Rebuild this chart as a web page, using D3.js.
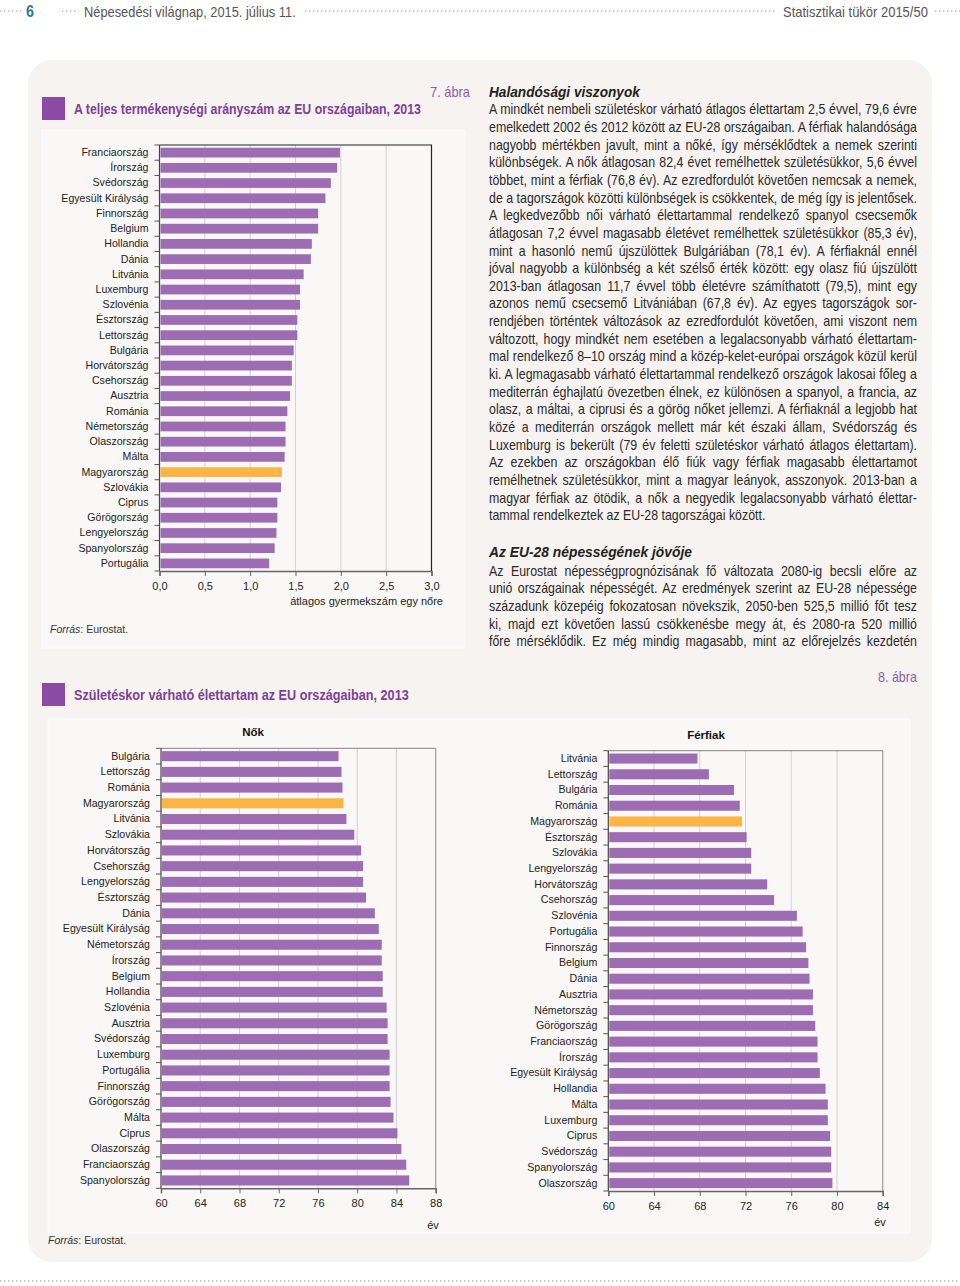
<!DOCTYPE html>
<html><head><meta charset="utf-8">
<script src="https://cdn.jsdelivr.net/npm/d3@7"></script>
<style>body{margin:0;background:#fff}svg{display:block}</style>
</head><body>
<svg id="c" width="960" height="1286"></svg>
<script>
// ---------- DATA ----------
const fertilityCountries = ["Franciaország","Írország","Svédország","Egyesült Királyság","Finnország","Belgium","Hollandia","Dánia","Litvánia","Luxemburg","Szlovénia","Észtország","Lettország","Bulgária","Horvátország","Csehország","Ausztria","Románia","Németország","Olaszország","Málta","Magyarország","Szlovákia","Ciprus","Görögország","Lengyelország","Spanyolország","Portugália"];
const fertilityValues = [1.99,1.96,1.89,1.83,1.75,1.75,1.68,1.67,1.59,1.55,1.55,1.52,1.52,1.48,1.46,1.46,1.44,1.41,1.39,1.39,1.38,1.35,1.34,1.30,1.30,1.29,1.27,1.21];
const fertilityTicks = [0,0.5,1,1.5,2,2.5,3];

const femaleCountries = ["Bulgária","Lettország","Románia","Magyarország","Litvánia","Szlovákia","Horvátország","Csehország","Lengyelország","Észtország","Dánia","Egyesült Királyság","Németország","Írország","Belgium","Hollandia","Szlovénia","Ausztria","Svédország","Luxemburg","Portugália","Finnország","Görögország","Málta","Ciprus","Olaszország","Franciaország","Spanyolország"];
const femaleValues = [78.1,78.4,78.5,78.6,78.9,79.7,80.4,80.6,80.6,80.9,81.8,82.2,82.5,82.5,82.6,82.6,83.0,83.1,83.1,83.3,83.3,83.3,83.4,83.7,84.1,84.5,85.0,85.3];
const femaleTicks = [60,64,68,72,76,80,84,88];

const maleCountries = ["Litvánia","Lettország","Bulgária","Románia","Magyarország","Észtország","Szlovákia","Lengyelország","Horvátország","Csehország","Szlovénia","Portugália","Finnország","Belgium","Dánia","Ausztria","Németország","Görögország","Franciaország","Írország","Egyesült Királyság","Hollandia","Málta","Luxemburg","Ciprus","Svédország","Spanyolország","Olaszország"];
const maleValues = [67.8,68.8,71.0,71.5,71.7,72.1,72.5,72.5,73.9,74.5,76.5,77.0,77.3,77.5,77.6,77.9,77.9,78.1,78.3,78.3,78.5,79.0,79.2,79.2,79.4,79.5,79.5,79.6];
const maleTicks = [60,64,68,72,76,80,84];

const highlight = "Magyarország";

const text1 = [
"A mindkét nembeli születéskor várható átlagos élettartam 2,5 évvel, 79,6 évre",
"emelkedett 2002 és 2012 között az EU-28 országaiban. A férfiak halandósága",
"nagyobb mértékben javult, mint a nőké, így mérséklődtek a nemek szerinti",
"különbségek. A nők átlagosan 82,4 évet remélhettek születésükkor, 5,6 évvel",
"többet, mint a férfiak (76,8 év). Az ezredfordulót követően nemcsak a nemek,",
"de a tagországok közötti különbségek is csökkentek, de még így is jelentősek.",
"A legkedvezőbb női várható élettartammal rendelkező spanyol csecsemők",
"átlagosan 7,2 évvel magasabb életévet remélhettek születésükkor (85,3 év),",
"mint a hasonló nemű újszülöttek Bulgáriában (78,1 év). A férfiaknál ennél",
"jóval nagyobb a különbség a két szélső érték között: egy olasz fiú újszülött",
"2013-ban átlagosan 11,7 évvel több életévre számíthatott (79,5), mint egy",
"azonos nemű csecsemő Litvániában (67,8 év). Az egyes tagországok sor-",
"rendjében történtek változások az ezredfordulót követően, ami viszont nem",
"változott, hogy mindkét nem esetében a legalacsonyabb várható élettartam-",
"mal rendelkező 8–10 ország mind a közép-kelet-európai országok közül kerül",
"ki. A legmagasabb várható élettartammal rendelkező országok lakosai főleg a",
"mediterrán éghajlatú övezetben élnek, ez különösen a spanyol, a francia, az",
"olasz, a máltai, a ciprusi és a görög nőket jellemzi. A férfiaknál a legjobb hat",
"közé a mediterrán országok mellett már két északi állam, Svédország és",
"Luxemburg is bekerült (79 év feletti születéskor várható átlagos élettartam).",
"Az ezekben az országokban élő fiúk vagy férfiak magasabb élettartamot",
"remélhetnek születésükkor, mint a magyar leányok, asszonyok. 2013-ban a",
"magyar férfiak az ötödik, a nők a negyedik legalacsonyabb várható élettar-",
"tammal rendelkeztek az EU-28 tagországai között."
];
const text2 = [
"Az Eurostat népességprognózisának fő változata 2080-ig becsli előre az",
"unió országainak népességét. Az eredmények szerint az EU-28 népessége",
"századunk közepéig fokozatosan növekszik, 2050-ben 525,5 millió főt tesz",
"ki, majd ezt követően lassú csökkenésbe megy át, és 2080-ra 520 millió",
"főre mérséklődik. Ez még mindig magasabb, mint az előrejelzés kezdetén"
];

// ---------- STYLE ----------
const PURPLE = "#9d6db4", ORANGE = "#fbb545", TITLE = "#7e3f99";
const SANS = "'Liberation Sans',Arial,sans-serif";

const svg = d3.select("#c");

// helper: text horizontally condensed to a given width (via scale transform)
function fitText(x, y, str, w, size, opts={}){
  const g = svg.append("g");
  const t = g.append("text").attr("x",0).attr("y",0).text(str)
    .attr("font-family",SANS).attr("font-size",size).attr("fill",opts.fill||"#222");
  if(opts.bold) t.attr("font-weight","bold");
  if(opts.italic) t.attr("font-style","italic");
  const nat = t.node().getComputedTextLength();
  const k = w/nat;
  g.attr("transform",`translate(${x},${y}) scale(${k},1)`);
  return t;
}

// page panel
svg.append("rect").attr("x",28).attr("y",60).attr("width",904).attr("height",1202)
  .attr("rx",24).attr("fill","#f6f3f0");

// header
function dots(x1,x2,y){svg.append("line").attr("x1",x1).attr("x2",x2).attr("y1",y).attr("y2",y)
  .attr("stroke","#b9b9b9").attr("stroke-width",1.6).attr("stroke-dasharray","1.4,2.6");}
dots(0,22,11); dots(62,78,11); dots(305,775,11); dots(935,960,11); dots(0,960,1281);
fitText(26,17,"6",8,16,{bold:true,fill:"#2b7d93"});
fitText(84,17,"Népesedési világnap, 2015. július 11.",212,14,{fill:"#555"});
fitText(783,17,"Statisztikai tükör 2015/50",145,14,{fill:"#555"});

// titles
function title(y, str, w){
  svg.append("rect").attr("x",42).attr("y",y-17).attr("width",23).attr("height",23).attr("fill","#8b4aa3");
  fitText(74,y,str,w,15.5,{bold:true,fill:TITLE});
}
title(114,"A teljes termékenységi arányszám az EU országaiban, 2013",347);
title(700,"Születéskor várható élettartam az EU országaiban, 2013",335);
fitText(430,97,"7. ábra",40,14,{fill:"#8d5ea7"});
fitText(878,682,"8. ábra",39,14,{fill:"#8d5ea7"});

// chart boxes
svg.append("rect").attr("x",42).attr("y",130).attr("width",423).attr("height",518)
  .attr("fill","#faf8f6").attr("stroke","#fdfcfb");
svg.append("rect").attr("x",48).attr("y",719).attr("width",862).attr("height",514)
  .attr("fill","#faf8f6").attr("stroke","#fdfcfb");

function source(x,y){
  const t = svg.append("text").attr("x",x).attr("y",y).attr("font-family",SANS).attr("font-size",10.5).attr("fill","#333");
  t.append("tspan").attr("font-style","italic").text("Forrás");
  t.append("tspan").text(": Eurostat.");
}
source(50,633); source(48,1244);

// ---------- bar chart ----------
function barChart(o){
  const g = svg.append("g");
  const x = d3.scaleLinear().domain(o.domain).range([o.left,o.right]);
  const y = d3.scaleBand().domain(o.cats).range([o.top,o.bottom]).paddingInner(0.36).paddingOuter(0.18);
  g.selectAll(".grid").data(o.ticks.slice(1,-1)).join("line")
    .attr("x1",d=>x(d)).attr("x2",d=>x(d)).attr("y1",o.top).attr("y2",o.bottom)
    .attr("stroke","#d4d2d0").attr("stroke-width",1);
  g.append("path").attr("d",`M${o.left},${o.top}H${o.right}V${o.bottom}`)
    .attr("fill","none").attr("stroke",o.border).attr("stroke-width",1.2);
  g.selectAll(".bar").data(o.cats).join("rect")
    .attr("x",x(o.domain[0])+1).attr("y",d=>y(d))
    .attr("width",(d,i)=>x(o.vals[i])-x(o.domain[0])-1).attr("height",y.bandwidth())
    .attr("fill",d=>d===highlight?ORANGE:PURPLE);
  const ya = g.append("g").attr("transform",`translate(${o.left},0)`)
    .call(d3.axisLeft(y).tickSize(0).tickPadding(11));
  ya.select(".domain").remove();
  ya.selectAll("text").attr("font-family",SANS).attr("font-size",10.6).attr("fill","#222");
  g.append("line").attr("x1",o.left).attr("x2",o.left).attr("y1",o.top).attr("y2",o.bottom)
    .attr("stroke","#444").attr("stroke-width",1.2);
  const n = o.cats.length;
  g.selectAll(".yt").data(d3.range(n+1)).join("line")
    .attr("x1",o.left-5).attr("x2",o.left)
    .attr("y1",i=>o.top+i*(o.bottom-o.top)/n).attr("y2",i=>o.top+i*(o.bottom-o.top)/n)
    .attr("stroke","#555");
  const xa = g.append("g").attr("transform",`translate(0,${o.bottom})`)
    .call(d3.axisBottom(x).tickValues(o.ticks).tickSize(5).tickPadding(6).tickFormat(o.fmt));
  xa.select(".domain").attr("stroke","#666").attr("stroke-width",1.5);
  xa.selectAll("line").attr("stroke","#666");
  xa.selectAll("text").attr("font-family",SANS).attr("font-size",11).attr("fill","#222");
  return {x,y};
}

const commaFmt = d => d3.format(".1f")(d).replace(".",",");
barChart({cats:fertilityCountries, vals:fertilityValues, domain:[0,3], ticks:fertilityTicks, fmt:commaFmt,
  left:159.5, right:431.5, top:145, bottom:571, border:"#222"});
svg.append("text").attr("x",443).attr("y",605).attr("text-anchor","end").text("átlagos gyermekszám egy nőre")
  .attr("font-family",SANS).attr("font-size",11).attr("fill","#222");

barChart({cats:femaleCountries, vals:femaleValues, domain:[60,88], ticks:femaleTicks, fmt:d3.format("d"),
  left:161, right:435.7, top:748.3, bottom:1188.3, border:"#9a9a9a"});
barChart({cats:maleCountries, vals:maleValues, domain:[60,84], ticks:maleTicks, fmt:d3.format("d"),
  left:608.3, right:882.7, top:750.7, bottom:1191, border:"#9a9a9a"});

svg.append("text").attr("x",253).attr("y",736).attr("text-anchor","middle").text("Nők")
  .attr("font-family",SANS).attr("font-weight","bold").attr("font-size",11.5).attr("fill","#111");
svg.append("text").attr("x",706).attr("y",739).attr("text-anchor","middle").text("Férfiak")
  .attr("font-family",SANS).attr("font-weight","bold").attr("font-size",11.5).attr("fill","#111");
svg.append("text").attr("x",433).attr("y",1229).attr("text-anchor","middle").text("év")
  .attr("font-family",SANS).attr("font-size",11).attr("fill","#222");
svg.append("text").attr("x",880).attr("y",1226).attr("text-anchor","middle").text("év")
  .attr("font-family",SANS).attr("font-size",11).attr("fill","#222");

// ---------- text column ----------
const TX = 489, TW = 428;
fitText(TX,96.5,"Halandósági viszonyok",151,15.5,{bold:true,italic:true,fill:"#222"});
fitText(TX,556.5,"Az EU-28 népességének jövője",203,15.5,{bold:true,italic:true,fill:"#222"});

// justified paragraph: glyphs condensed by a common factor k, word spacing fills each line
function paragraph(y0, lines, lh, lastJustified, k){
  lines.forEach((s,i)=>{
    const g = svg.append("g").attr("transform",`translate(${TX},${y0+i*lh}) scale(${k},1)`);
    const t = g.append("text").attr("x",0).attr("y",0).text(s)
      .attr("font-family",SANS).attr("font-size",14).attr("fill","#2a2a2a");
    const isLast = i===lines.length-1 && !lastJustified;
    if(!isLast){
      const w = t.node().getComputedTextLength();
      const n = (s.match(/ /g)||[]).length;
      if(n>0) t.style("word-spacing", ((TW/k - w)/n)+"px");
    }
  });
}
// common condensing factor: the tightest line fits with normal spacing
const probe = svg.append("text").attr("font-family",SANS).attr("font-size",14);
const natWidths = text1.slice(0,-1).concat(text2).map(s=>{probe.text(s); return probe.node().getComputedTextLength();});
probe.remove();
const K = d3.min(natWidths.map(w=>TW/w));
paragraph(114.3, text1, 17.65, false, K);
paragraph(575.7, text2, 17.6, true, K);
</script>
</body></html>
